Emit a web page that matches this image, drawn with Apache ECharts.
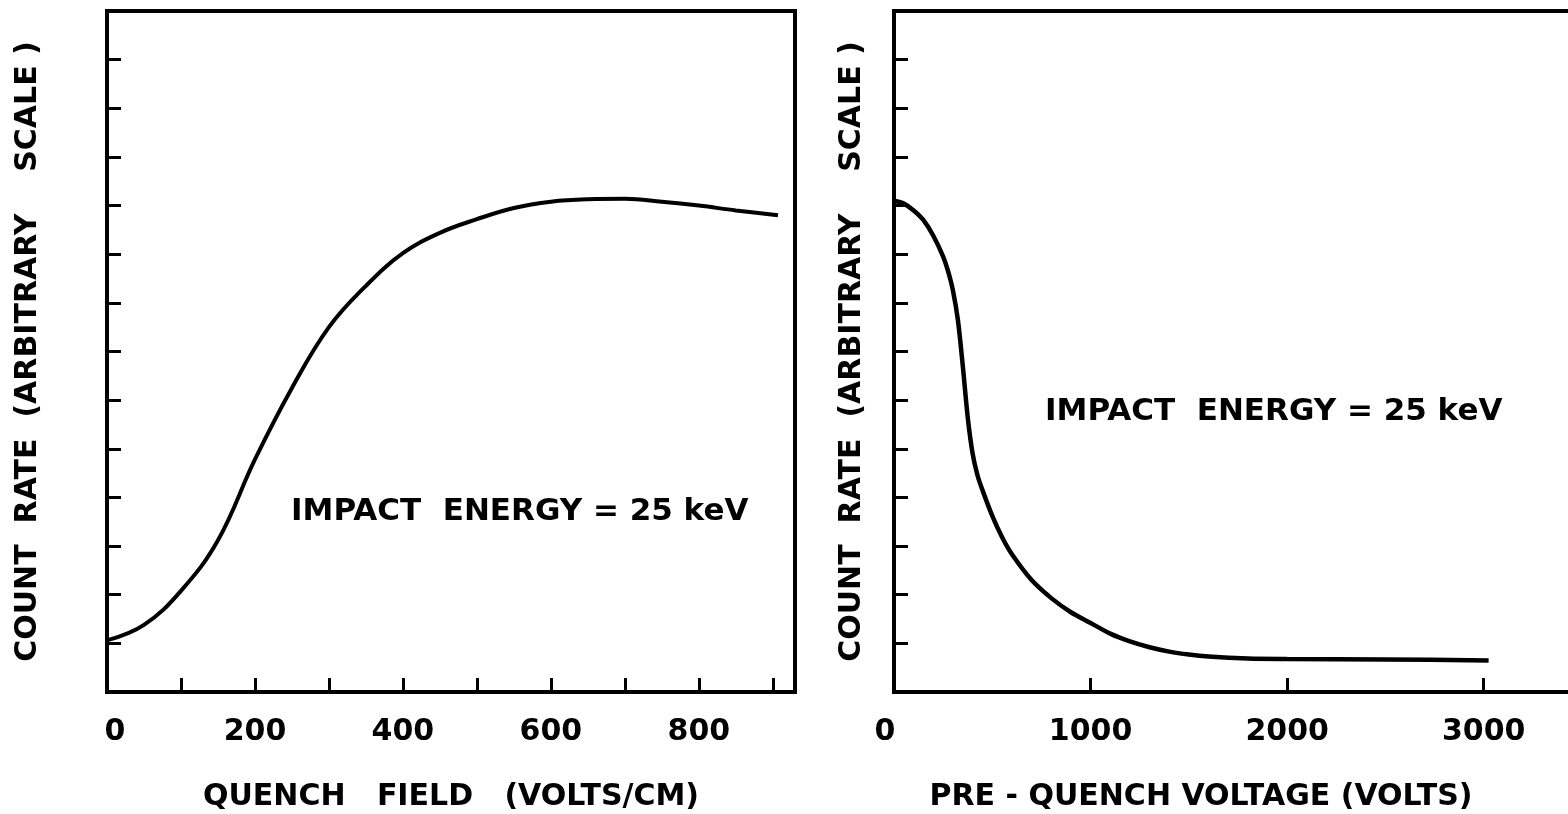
<!DOCTYPE html>
<html>
<head>
<meta charset="utf-8">
<style>
html,body{margin:0;padding:0;background:#fff;}
#chart{width:1568px;height:814px;}
</style>
<script src="https://cdn.jsdelivr.net/npm/echarts@6/dist/echarts.min.js"></script>
</head>
<body>
<div id="chart"></div>
<script>
// Left panel: count rate vs quench field
const quenchField = [0, 50, 100, 150, 200, 250, 300, 350, 400, 450, 500, 550, 600, 650, 700, 750, 800, 850, 907];
const quenchRate  = [1.06, 1.38, 2.08, 3.12, 4.78, 6.25, 7.5, 8.35, 9.02, 9.44, 9.72, 9.95, 10.08, 10.13, 10.14, 10.08, 10.0, 9.9, 9.8];
// Right panel: count rate vs pre-quench voltage
const preVoltage = [0, 50, 100, 150, 200, 250, 275, 300, 325, 350, 375, 400, 425, 450, 500, 550, 600, 700, 800, 900, 1000, 1100, 1200, 1300, 1400, 1500, 1600, 1800, 2000, 2500, 3025];
const preRate    = [10.1, 10.04, 9.9, 9.7, 9.38, 8.95, 8.65, 8.25, 7.65, 6.7, 5.65, 4.9, 4.45, 4.15, 3.62, 3.18, 2.83, 2.3, 1.93, 1.64, 1.42, 1.2, 1.04, 0.92, 0.83, 0.77, 0.73, 0.69, 0.68, 0.67, 0.65];
// Tick labels
const leftXLabels = [0, 200, 400, 600, 800];
const rightXLabels = [0, 1000, 2000, 3000];
const yTitle = 'COUNT  RATE  (ARBITRARY    SCALE )';
const leftXTitle = 'QUENCH   FIELD   (VOLTS/CM)';
const rightXTitle = 'PRE - QUENCH VOLTAGE (VOLTS)';
const note = 'IMPACT  ENERGY = 25 keV';

const FONT = 'DejaVu Sans';
const ink = '#000';

function zip(a, b) { return a.map((v, i) => [v, b[i]]); }

const chart = echarts.init(document.getElementById('chart'), null, {renderer: 'canvas'});

function xAxis(gridIndex, max, interval, labels, name, pad, zeroPad) {
  return {
    type: 'value', gridIndex, min: 0, max, interval,
    name, nameLocation: 'middle', nameGap: 90,
    nameTextStyle: {color: ink, fontFamily: FONT, fontWeight: 'bold', fontSize: 30, padding: pad},
    axisLine: {show: true, onZero: false, lineStyle: {color: ink, width: 4}},
    axisTick: {show: true, inside: true, length: 14, lineStyle: {color: ink, width: 3}},
    axisLabel: {
      show: true, margin: 25, color: ink, fontFamily: FONT, fontWeight: 'bold', fontSize: 30,
      formatter: v => v === 0 ? '{z|0}' : (labels.indexOf(v) >= 0 ? String(v) : ''),
      rich: {z: {color: ink, fontFamily: FONT, fontWeight: 'bold', fontSize: 30, padding: zeroPad}}
    },
    splitLine: {show: false}
  };
}
function yAxis(gridIndex, nameGap) {
  return {
    type: 'value', gridIndex, min: 0, max: 14, interval: 1,
    name: yTitle, nameLocation: 'middle', nameGap, nameRotate: 90,
    nameTextStyle: {color: ink, fontFamily: FONT, fontWeight: 'bold', fontSize: 30},
    axisLine: {show: true, onZero: false, lineStyle: {color: ink, width: 4}},
    axisTick: {show: true, inside: true, length: 14, lineStyle: {color: ink, width: 3}},
    axisLabel: {show: false},
    splitLine: {show: false}
  };
}

chart.setOption({
  animation: false,
  backgroundColor: '#fff',
  grid: [
    {left: 107, top: 11, width: 688, height: 681, show: true, borderColor: ink, borderWidth: 4,
     backgroundColor: 'transparent', outerBoundsMode: 'none', containLabel: false},
    {left: 894, top: 11, width: 688, height: 681, show: true, borderColor: ink, borderWidth: 4,
     backgroundColor: 'transparent', outerBoundsMode: 'none', containLabel: false}
  ],
  xAxis: [
    xAxis(0, 930, 100, leftXLabels, leftXTitle, [0, 0, 0, 0], [0, 0, 0, 16]),
    xAxis(1, 3500, 1000, rightXLabels, rightXTitle, [0, 74, 0, 0], [0, 18, 0, 0])
  ],
  yAxis: [yAxis(0, 64), yAxis(1, 27)],
  graphic: [
    {type: 'text', left: 291, top: 496, style: {text: note, fill: ink, font: 'bold 31px "DejaVu Sans"'}},
    {type: 'text', left: 1045, top: 396, style: {text: note, fill: ink, font: 'bold 31px "DejaVu Sans"'}}
  ],
  series: [
    {type: 'line', xAxisIndex: 0, yAxisIndex: 0, data: zip(quenchField, quenchRate), smooth: 0.4,
     symbol: 'none', lineStyle: {color: ink, width: 4}},
    {type: 'line', xAxisIndex: 1, yAxisIndex: 1, data: zip(preVoltage, preRate), smooth: 0.3,
     symbol: 'none', lineStyle: {color: ink, width: 4.5}}
  ]
});
</script>
</body>
</html>
